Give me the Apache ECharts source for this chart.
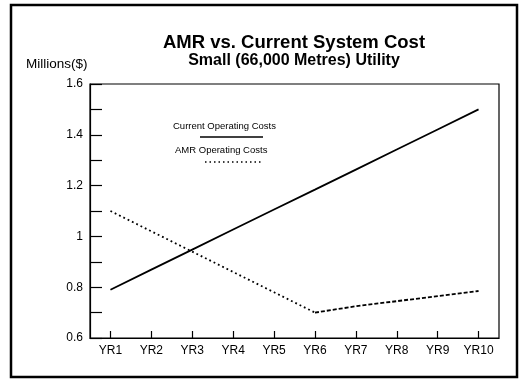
<!DOCTYPE html>
<html>
<head>
<meta charset="utf-8">
<script src="https://cdn.jsdelivr.net/npm/echarts@6/dist/echarts.min.js"></script>
<style>
  html, body { margin: 0; padding: 0; background: #fff; }
  #chart { width: 520px; height: 380px; }
</style>
</head>
<body>
<div id="chart"></div>
<script>
// Ten-year projection, values in millions of dollars
const years = ['YR1', 'YR2', 'YR3', 'YR4', 'YR5', 'YR6', 'YR7', 'YR8', 'YR9', 'YR10'];
const currentCosts = [0.79, 0.869, 0.948, 1.027, 1.106, 1.184, 1.263, 1.342, 1.421, 1.50];
const amrCosts = [1.10, 1.02, 0.94, 0.86, 0.78, 0.70, 0.725, 0.745, 0.765, 0.785];
// AMR curve is drawn dotted through the roll-out years, dashed afterwards
const amrRolloutEnd = 5;
const yTicks = [0.6, 0.8, 1.0, 1.2, 1.4, 1.6];

const FONT = '"Liberation Sans", Arial, Helvetica, sans-serif';

const amrRollout = amrCosts.map((v, i) => (i <= amrRolloutEnd ? v : null));
const amrSteady = amrCosts.map((v, i) => (i >= amrRolloutEnd ? v : null));

const chart = echarts.init(document.getElementById('chart'), null, { renderer: 'canvas' });

chart.setOption({
  animation: false,
  backgroundColor: '#fff',
  textStyle: { fontFamily: FONT, color: '#000' },
  title: [
    {
      text: 'AMR vs. Current System Cost',
      left: 289, top: 28, textAlign: 'center',
      textStyle: { fontFamily: FONT, fontSize: 18.5, fontWeight: 'bold', color: '#000' }
    },
    {
      text: 'Small (66,000 Metres) Utility',
      left: 289, top: 48, textAlign: 'center',
      textStyle: { fontFamily: FONT, fontSize: 16, fontWeight: 'bold', color: '#000' }
    },
    {
      text: 'Millions($)',
      left: 21, top: 52,
      textStyle: { fontFamily: FONT, fontSize: 13.5, fontWeight: 'normal', color: '#000' }
    }
  ],
  grid: {
    left: 90, right: 21, top: 84, bottom: 42,
    show: true, borderColor: '#000', borderWidth: 1.2, backgroundColor: 'transparent'
  },
  xAxis: {
    type: 'category',
    data: years,
    boundaryGap: true,
    axisLine: { lineStyle: { color: '#000', width: 1.2 } },
    axisTick: { show: true, inside: true, alignWithLabel: true, length: 7, lineStyle: { color: '#000', width: 1.2 } },
    axisLabel: { fontFamily: FONT, fontSize: 12, color: '#000', margin: 7 },
    splitLine: { show: false }
  },
  yAxis: {
    type: 'value',
    min: yTicks[0],
    max: yTicks[yTicks.length - 1],
    interval: 0.1,
    axisLine: { show: true, lineStyle: { color: '#000', width: 1.2 } },
    axisTick: { show: true, inside: true, length: 12, lineStyle: { color: '#000', width: 1.2 } },
    axisLabel: {
      fontFamily: FONT, fontSize: 12, color: '#000', margin: 7,
      formatter: function (v) {
        const hit = yTicks.find(t => Math.abs(t - v) < 1e-6);
        if (hit === undefined) return '';
        return Math.abs(hit - 1) < 1e-6 ? '1' : hit.toFixed(1);
      }
    },
    splitLine: { show: false }
  },
  series: [
    {
      name: 'Current Operating Costs',
      type: 'line',
      data: currentCosts,
      symbol: 'none',
      lineStyle: { color: '#000', width: 1.8, type: 'solid' }
    },
    {
      name: 'AMR Operating Costs',
      type: 'line',
      data: amrRollout,
      symbol: 'none',
      lineStyle: { color: '#000', width: 1.8, type: [1.8, 3] }
    },
    {
      name: 'AMR Operating Costs',
      type: 'line',
      data: amrSteady,
      symbol: 'none',
      lineStyle: { color: '#000', width: 1.8, type: [4, 2] }
    }
  ],
  graphic: [
    // outer frame
    {
      type: 'rect',
      shape: { x: 11, y: 5, width: 506, height: 372 },
      style: { fill: 'none', stroke: '#000', lineWidth: 2.5 },
      silent: true
    },
    // key: label above a sample of each line style
    {
      type: 'text', left: 173, top: 121,
      style: { text: 'Current Operating Costs', font: '9.5px ' + FONT, fill: '#000' }
    },
    {
      type: 'line',
      shape: { x1: 200, y1: 137, x2: 263, y2: 137 },
      style: { stroke: '#000', lineWidth: 1.5 }
    },
    {
      type: 'text', left: 175, top: 145,
      style: { text: 'AMR Operating Costs', font: '9.5px ' + FONT, fill: '#000' }
    },
    {
      type: 'line',
      shape: { x1: 205, y1: 162, x2: 263, y2: 162 },
      style: { stroke: '#000', lineWidth: 1.5, lineDash: [1.5, 3] }
    }
  ]
});
</script>
</body>
</html>
